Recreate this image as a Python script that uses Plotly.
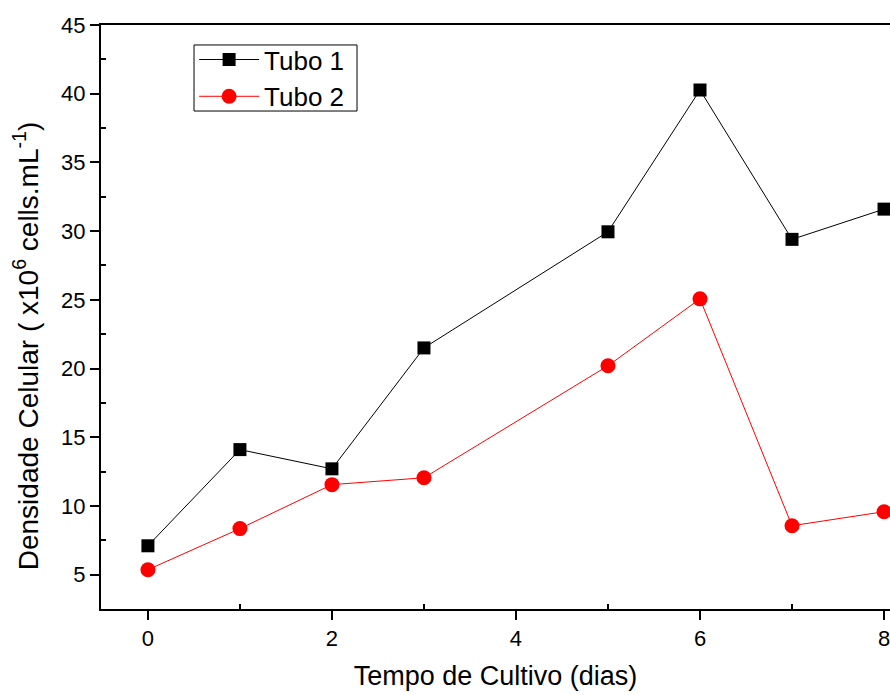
import plotly.graph_objects as go

dias = [0, 1, 2, 3, 5, 6, 7, 8]
tubo1 = [7.1, 14.1, 12.7, 21.5, 29.95, 40.27, 29.4, 31.6]
tubo2 = [5.36, 8.35, 11.55, 12.05, 20.2, 25.07, 8.56, 9.58]

FONT = "Liberation Sans, Arial, sans-serif"

fig = go.Figure()
fig.add_trace(go.Scatter(x=dias, y=tubo1, name="Tubo 1", mode="lines+markers",
                         line=dict(color="black", width=1),
                         marker=dict(symbol="square", size=13, color="black")))
fig.add_trace(go.Scatter(x=dias, y=tubo2, name="Tubo 2", mode="lines+markers",
                         line=dict(color="red", width=1),
                         marker=dict(symbol="circle", size=15, color="red")))

fig.update_layout(
    width=890, height=695,
    margin=dict(l=101, r=0, t=25, b=86),
    plot_bgcolor="white", paper_bgcolor="white",
    font=dict(family=FONT, color="black", size=22),
    showlegend=True,
    legend=dict(x=0.118, y=0.981, xanchor="left", yanchor="top",
                borderwidth=0, bgcolor="rgba(0,0,0,0)",
                font=dict(size=26, family=FONT), tracegroupgap=0, itemwidth=60),
    shapes=[dict(type="rect", xref="paper", yref="paper",
                 x0=0.1179, x1=0.3245, y0=0.8527, y1=0.9658,
                 line=dict(color="black", width=1), fillcolor="white", layer="below")],
    annotations=[dict(
        text="Densidade Celular ( x10<sup>6</sup> cells.mL<sup>-1</sup>)",
        textangle=-90, xref="paper", yref="paper", x=-0.095, y=0.45,
        xanchor="center", yanchor="middle", showarrow=False,
        font=dict(size=28, family=FONT, color="black"))],
)
fig.update_xaxes(
    range=[-0.51, 8.065], tickvals=[0, 2, 4, 6, 8],
    ticks="outside", ticklen=9, tickwidth=2, tickcolor="black",
    minor=dict(tickvals=[1, 3, 5, 7], ticks="inside", ticklen=5, tickwidth=1.5, tickcolor="black"),
    showline=True, linecolor="black", linewidth=2, mirror=True,
    showgrid=False, zeroline=False, ticklabeloverflow="allow",
    title=dict(text="Tempo de Cultivo (dias)", font=dict(size=27, family=FONT), standoff=16),
    tickfont=dict(size=22, family=FONT, color="black"),
)
fig.update_yaxes(
    range=[2.5, 45], tickvals=[5, 10, 15, 20, 25, 30, 35, 40, 45],
    ticks="outside", ticklen=9, tickwidth=2, tickcolor="black",
    minor=dict(tickvals=[7.5, 12.5, 17.5, 22.5, 27.5, 32.5, 37.5, 42.5], ticks="inside",
               ticklen=5, tickwidth=1.5, tickcolor="black"),
    showline=True, linecolor="black", linewidth=2,
    showgrid=False, zeroline=False,
    tickfont=dict(size=22, family=FONT, color="black"),
)

fig.write_html("out.html")
